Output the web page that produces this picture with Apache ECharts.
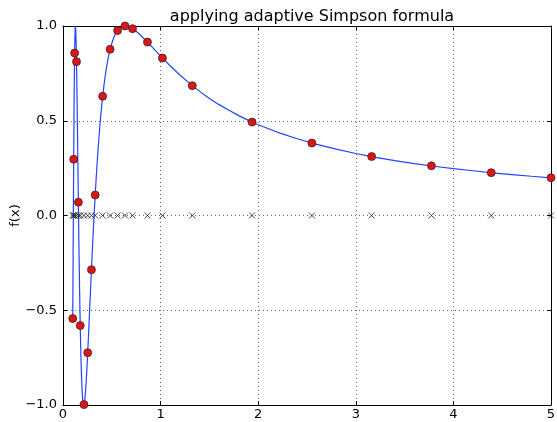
<!DOCTYPE html>
<html>
<head>
<meta charset="utf-8">
<script src="https://cdn.jsdelivr.net/npm/echarts@6/dist/echarts.min.js"></script>
<style>
html, body { margin: 0; padding: 0; background: #fff; }
#main { width: 557px; height: 422px; }
</style>
</head>
<body>
<div id="main"></div>
<script>
// curve f(x)
var curveX = [0.100, 0.105, 0.110, 0.115, 0.120, 0.125, 0.1273, 0.130, 0.135, 0.140, 0.145, 0.150, 0.155, 0.160,
    0.165, 0.170, 0.175, 0.180, 0.185, 0.190, 0.195, 0.200, 0.205, 0.210, 0.2122, 0.215, 0.220, 0.225, 0.230,
    0.235, 0.240, 0.245, 0.250, 0.255, 0.260, 0.265, 0.270, 0.275, 0.280, 0.285, 0.290, 0.295, 0.300,
    0.32, 0.34, 0.36, 0.38, 0.40, 0.42, 0.44, 0.46, 0.48, 0.50, 0.52, 0.54, 0.56, 0.58, 0.60, 0.62, 0.64,
    0.66, 0.68, 0.70, 0.72, 0.74, 0.76, 0.78, 0.80, 0.9, 1.0, 1.1, 1.2, 1.3, 1.4, 1.5, 1.6, 1.7, 1.8, 1.9,
    2.0, 2.2, 2.4, 2.6, 2.8, 3.0, 3.2, 3.4, 3.6, 3.8, 4.0, 4.2, 4.4, 4.6, 4.8, 5.0];
var curveY = [-0.544, -0.099, 0.328, 0.666, 0.887, 0.989, 1.000, 0.987, 0.902, 0.757, 0.576, 0.374, 0.167, -0.033,
    -0.221, -0.390, -0.539, -0.665, -0.769, -0.852, -0.915, -0.959, -0.986, -0.999, -1.000, -0.998, -0.986, -0.964, -0.934,
    -0.897, -0.855, -0.808, -0.757, -0.703, -0.648, -0.591, -0.533, -0.475, -0.417, -0.359, -0.302, -0.246, -0.191,
    0.017, 0.199, 0.356, 0.488, 0.598, 0.689, 0.764, 0.824, 0.871, 0.909, 0.939, 0.961, 0.977, 0.988, 0.995, 0.999, 1.000,
    0.998, 0.995, 0.990, 0.984, 0.976, 0.968, 0.959, 0.949, 0.896, 0.841, 0.789, 0.740, 0.696, 0.655, 0.618, 0.585, 0.555, 0.527, 0.502,
    0.479, 0.439, 0.405, 0.375, 0.350, 0.327, 0.307, 0.290, 0.274, 0.260, 0.247, 0.236, 0.225, 0.216, 0.207, 0.199];

// Simpson nodes (red dots) and their values
var nodeX = [0.1, 0.1096, 0.1191, 0.1383, 0.1574, 0.1766, 0.2148, 0.2531, 0.2914, 0.3297, 0.4063, 0.4828,
    0.5594, 0.6359, 0.7125, 0.8656, 1.0188, 1.325, 1.9375, 2.55, 3.1625, 3.775, 4.3875, 5.0];
var nodeY = [-0.544, 0.297, 0.857, 0.812, 0.070, -0.581, -0.998, -0.724, -0.286, 0.108, 0.629, 0.877,
    0.976, 1.000, 0.986, 0.915, 0.831, 0.685, 0.493, 0.382, 0.311, 0.262, 0.226, 0.199];

var xTicks = [0, 1, 2, 3, 4, 5];
var yTicks = [-1.0, -0.5, 0.0, 0.5, 1.0];

var chart = echarts.init(document.getElementById('main'));

var font = 'DejaVu Sans';

function zip(a, b) {
    var out = [];
    for (var i = 0; i < a.length; i++) out.push([a[i], b[i]]);
    return out;
}

var gridLine = { show: true, lineStyle: { color: '#666', type: [1, 3], width: 1 } };
var frame = { show: true, onZero: false, lineStyle: { color: '#000', width: 1 } };
var tick = { show: true, inside: true, length: 4, lineStyle: { color: '#000' } };

var option = {
    animation: false,
    backgroundColor: '#fff',
    title: {
        text: 'applying adaptive Simpson formula',
        left: 307, top: 4, textAlign: 'center',
        textStyle: { fontFamily: font, fontSize: 16, fontWeight: 'normal', color: '#000' }
    },
    grid: { left: 63, right: 6, top: 26, bottom: 17, containLabel: false, outerBoundsMode: 'none' },
    xAxis: [{
        type: 'value', min: xTicks[0], max: xTicks[xTicks.length - 1], interval: 1,
        axisLine: frame, axisTick: tick, splitLine: gridLine,
        axisLabel: { color: '#000', fontFamily: font, fontSize: 13, margin: 3 }
    }, {
        type: 'value', position: 'top', min: 0, max: 5, interval: 1,
        axisLine: frame, axisTick: tick, splitLine: { show: false }, axisLabel: { show: false }
    }],
    yAxis: [{
        type: 'value', min: yTicks[0], max: yTicks[yTicks.length - 1], interval: 0.5,
        name: 'f(x)', nameLocation: 'middle', nameGap: 41, nameRotate: 90, nameMoveOverlap: false,
        nameTextStyle: { color: '#000', fontFamily: font, fontSize: 13 },
        axisLine: frame, axisTick: tick, splitLine: gridLine,
        axisLabel: {
            color: '#000', fontFamily: font, fontSize: 13, margin: 6,
            formatter: function (v) { return v.toFixed(1).replace('-', '\u2212'); }
        }
    }, {
        type: 'value', position: 'right', min: -1, max: 1, interval: 0.5,
        axisLine: frame, axisTick: tick, splitLine: { show: false }, axisLabel: { show: false }
    }],
    series: [{
        type: 'line', data: zip(curveX, curveY), showSymbol: false, symbol: 'none',
        lineStyle: { color: '#2244ff', width: 1.2 }, z: 2
    }, {
        type: 'scatter', data: zip(nodeX, nodeY), symbolSize: 8,
        itemStyle: { color: '#dd1515', borderColor: '#222', borderWidth: 0.7, opacity: 1 }, z: 3
    }, {
        type: 'scatter', data: nodeX.map(function (x) { return [x, 0]; }),
        symbol: 'path://M0,0L10,10M10,0L0,10', symbolSize: 6,
        itemStyle: { color: 'none', borderColor: '#222', borderWidth: 0.8, opacity: 1 }, z: 4
    }]
};

chart.setOption(option);
</script>
</body>
</html>
